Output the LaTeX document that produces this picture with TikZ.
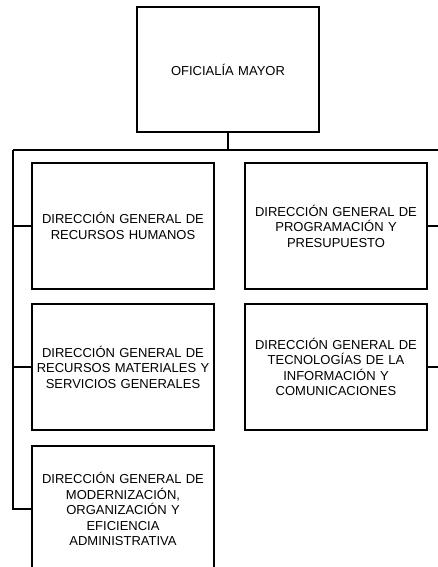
\documentclass[tikz,border=0pt]{standalone}
\usepackage{fontspec}
\setmainfont{Liberation Sans}
\begin{document}
\begin{tikzpicture}[x=1pt,y=-1pt,
  box/.style={draw, line width=1.2pt, minimum width=182pt, minimum height=126pt,
    inner sep=0pt, align=center, text width=180pt,
    font=\fontsize{13}{15.5}\selectfont},
  conn/.style={line width=1.6pt}]
\useasboundingbox (0,0) rectangle (438,567);
\clip (0,0) rectangle (438,567);
\node[box, minimum height=125pt] (om) at (228,69.5) {OFICIALÍA MAYOR};
\node[box] (d1) at (123,226) {DIRECCIÓN GENERAL DE\\RECURSOS HUMANOS};
\node[box] (d2) at (123,367) {DIRECCIÓN GENERAL DE\\RECURSOS MATERIALES Y\\SERVICIOS GENERALES};
\node[box] (d3) at (123,509) {DIRECCIÓN GENERAL DE\\MODERNIZACIÓN,\\ORGANIZACIÓN Y\\EFICIENCIA\\ADMINISTRATIVA};
\node[box] (d4) at (336,226) {DIRECCIÓN GENERAL DE\\PROGRAMACIÓN Y\\PRESUPUESTO};
\node[box] (d5) at (336,367) {DIRECCIÓN GENERAL DE\\TECNOLOGÍAS DE LA\\INFORMACIÓN Y\\COMUNICACIONES};
\coordinate (busL) at (13,150);
\coordinate (busR) at (445,150);
\draw[conn] (om.south) -- (om.south |- busL);
\draw[conn] (busL) -- (busR);
\draw[conn] (busL) -- (busL |- d3.west) -- (d3.west);
\draw[conn] (busL |- d1.west) -- (d1.west);
\draw[conn] (busL |- d2.west) -- (d2.west);
\draw[conn] (d4.east) -- (d4.east -| busR);
\draw[conn] (d5.east) -- (d5.east -| busR);
\end{tikzpicture}
\end{document}
